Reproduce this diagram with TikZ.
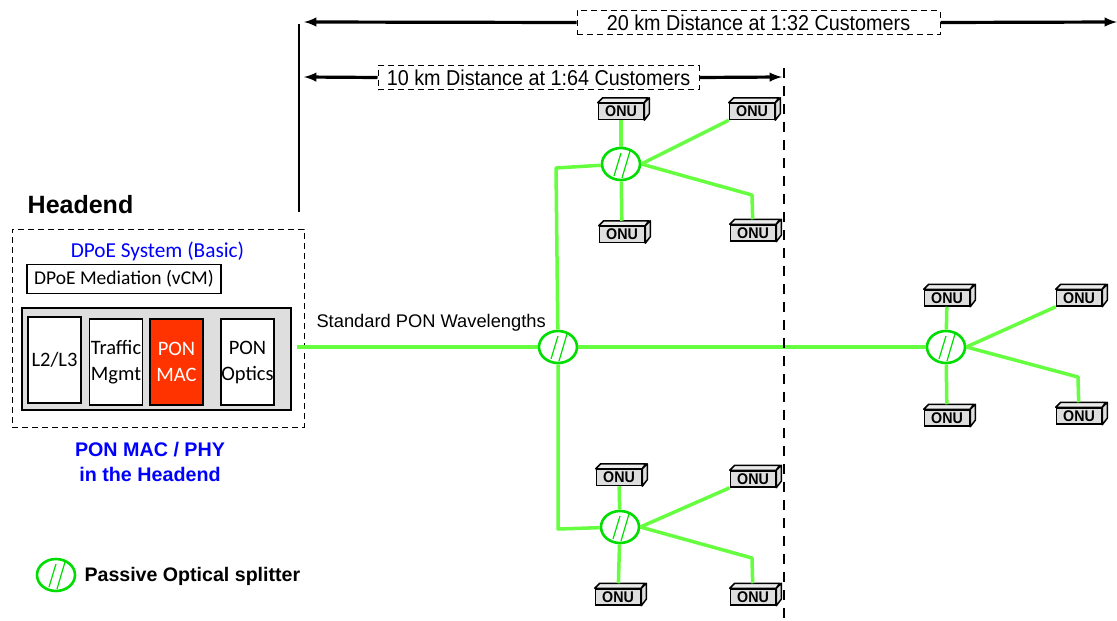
\documentclass[tikz,border=0pt]{standalone}
\usepackage{fontspec}
\setmainfont{Liberation Sans}
\newfontfamily\calfont{Carlito}
\newfontfamily\narrowfont[FakeStretch=0.92]{Liberation Sans}
\usetikzlibrary{shapes.geometric}
\definecolor{fibre}{HTML}{66FF3F}
\definecolor{ringgreen}{HTML}{00DD00}
\definecolor{boxgray}{HTML}{DEDEDE}
\definecolor{macred}{HTML}{FF3300}
\tikzset{
  onu/.style={draw, line width=1.5pt, fill=boxgray, minimum width=45pt, minimum height=16pt, inner sep=0pt,
    font=\narrowfont\fontsize{15.5}{16}\selectfont\bfseries,
    append after command={\pgfextra{\let\onulast\tikzlastnode
      \draw[line width=1.5pt, line join=round, fill=boxgray!60!white] (\onulast.north west) -- ++(5,-5) -- ++(45,0) -- (\onulast.north east) -- cycle;
      \draw[line width=1.5pt, line join=round, fill=boxgray] (\onulast.north east) -- ++(5,-5) -- ++(0,16) -- (\onulast.south east) -- cycle;
    }}},
  splitter/.style={ellipse, draw=ringgreen, line width=2.6pt, fill=white, minimum width=38pt, minimum height=32pt, inner sep=0pt,
    path picture={
      \draw[ringgreen, line width=1.2pt] ([shift={(-7,12)}]path picture bounding box.center) -- ([shift={(0,-11)}]path picture bounding box.center);
      \draw[ringgreen, line width=1.2pt] ([shift={(1,14)}]path picture bounding box.center) -- ([shift={(9,-13)}]path picture bounding box.center);
    }},
  fibreline/.style={fibre, line width=3.5pt, line join=round},
  span/.style={draw, line width=1pt, dash pattern=on 6pt off 4pt, fill=white, inner sep=0pt, font=\narrowfont\fontsize{21.5}{23}\selectfont},
  spanarrow/.style={-latex, line width=3.2pt},
  unit/.style={draw, line width=1.5pt, fill=white, align=center, minimum width=53pt, minimum height=86pt, inner sep=0pt,
    font=\calfont\fontsize{20.5}{26}\selectfont},
}
\begin{document}
\begin{tikzpicture}[x=1pt, y=-1pt]
\useasboundingbox (0,0) rectangle (1117,621);
% headend
\node (head) at (80.5,205) {\fontsize{25}{28}\selectfont\bfseries Headend};
\node[draw, line width=0.9pt, dash pattern=on 6pt off 4pt, minimum width=292pt, minimum height=198pt, inner sep=0pt] (system) at (158,328) {};
\node[text=blue] (systxt) at (157.5,251) {\calfont\fontsize{21.3}{23}\selectfont DPoE System (Basic)};
\node[draw, line width=1.4pt, minimum width=194pt, minimum height=29pt, inner sep=0pt] (vcm) at (124,279) {\raisebox{-3pt}{\calfont\fontsize{19.5}{22}\selectfont DPoE Mediation (vCM)}};
\node[draw, line width=1.5pt, fill=boxgray, minimum width=269pt, minimum height=102pt, inner sep=0pt] (tray) at (156.5,359) {};
\node[unit] (l2) at (54.5,360) {L2/L3};
\node[unit] (tm) at (116,362) {Traffic\\Mgmt};
\node[unit, fill=macred, text=white] (mac) at (176.5,362) {PON\\MAC};
\node[unit] (opt) at (247.5,362) {PON\\Optics};
\node[text=blue, align=center, font=\fontsize{19.7}{25}\selectfont\bfseries] (phy) at (150,462) {PON MAC / PHY\\in the Headend};
% splitters
\node[splitter] (s0) at (558,347) {};
\node[splitter] (s1) at (621,164) {};
\node[splitter] (s2) at (620,527) {};
\node[splitter] (s3) at (946,347) {};
\node[splitter] (s4) at (56,575) {};
\node[anchor=west, font=\fontsize{19.6}{22}\selectfont\bfseries] (legend) at (81,576) {Passive Optical splitter};
% onus, top group
\node[onu] (a1) at (621,111.5) {ONU};
\node[onu] (a2) at (752,111.5) {ONU};
\node[onu] (a3) at (622,234.5) {ONU};
\node[onu] (a4) at (753,233) {ONU};
% onus, bottom group
\node[onu] (b1) at (619,477.5) {ONU};
\node[onu] (b2) at (753,479) {ONU};
\node[onu] (b3) at (618,597) {ONU};
\node[onu] (b4) at (753,597) {ONU};
% onus, far group
\node[onu] (c1) at (947,298) {ONU};
\node[onu] (c2) at (1079,298) {ONU};
\node[onu] (c3) at (947,418) {ONU};
\node[onu] (c4) at (1079,416) {ONU};
% fibre
\coordinate (t0) at (297,347);
\draw[fibreline] (t0) -- (s0);
\draw[fibreline] (s0) -- (s3);
\node[anchor=west, font=\fontsize{18.3}{20}\selectfont] (wave) at (313,323) {Standard PON Wavelengths};
\draw[fibreline] (s0) -- (556,168) -- (s1);
\draw[fibreline] (s0) -- (558,529) -- (s2);
\draw[fibreline] (s1) -- (a1);
\draw[fibreline] (s1.east) -- (a2.south west);
\draw[fibreline, shorten >=5pt] (s1) -- (a3);
\draw[fibreline, shorten >=5pt] (s1.east) -- (752,195) -- (a4);
\draw[fibreline] (s2) -- (b1);
\draw[fibreline] (s2.east) -- (b2.south west);
\draw[fibreline, shorten >=5pt] (s2) -- (b3);
\draw[fibreline, shorten >=5pt] (s2.east) -- (752,558) -- (b4);
\draw[fibreline] (s3) -- (c1);
\draw[fibreline] (s3.east) -- (c2.south west);
\draw[fibreline, shorten >=5pt] (s3) -- (c3);
\draw[fibreline, shorten >=5pt] (s3.east) -- (1078,377) -- (c4);
% distances
\coordinate (m0) at (299,24);
\coordinate (m1) at (299,212);
\draw[line width=2.4pt] (m0) -- (m1);
\coordinate (m2) at (784,68);
\coordinate (m3) at (784,621);
\draw[line width=2.4pt, dash pattern=on 10pt off 8pt] (m2) -- (m3);
\node[span, minimum width=363pt, minimum height=24pt] (d20) at (758.5,22.5) {20 km Distance at 1:32 Customers};
\node[span, minimum width=321pt, minimum height=24pt] (d10) at (538.5,77.5) {10 km Distance at 1:64 Customers};
\coordinate (e1) at (304,22);
\coordinate (e2) at (1117,22);
\coordinate (e3) at (304,77);
\coordinate (e4) at (782,77);
\draw[spanarrow] (d20.west) -- (e1);
\draw[spanarrow] (d20.east) -- (e2);
\draw[spanarrow] (d10.west) -- (e3);
\draw[spanarrow] (d10.east) -- (e4);
\end{tikzpicture}
\end{document}
